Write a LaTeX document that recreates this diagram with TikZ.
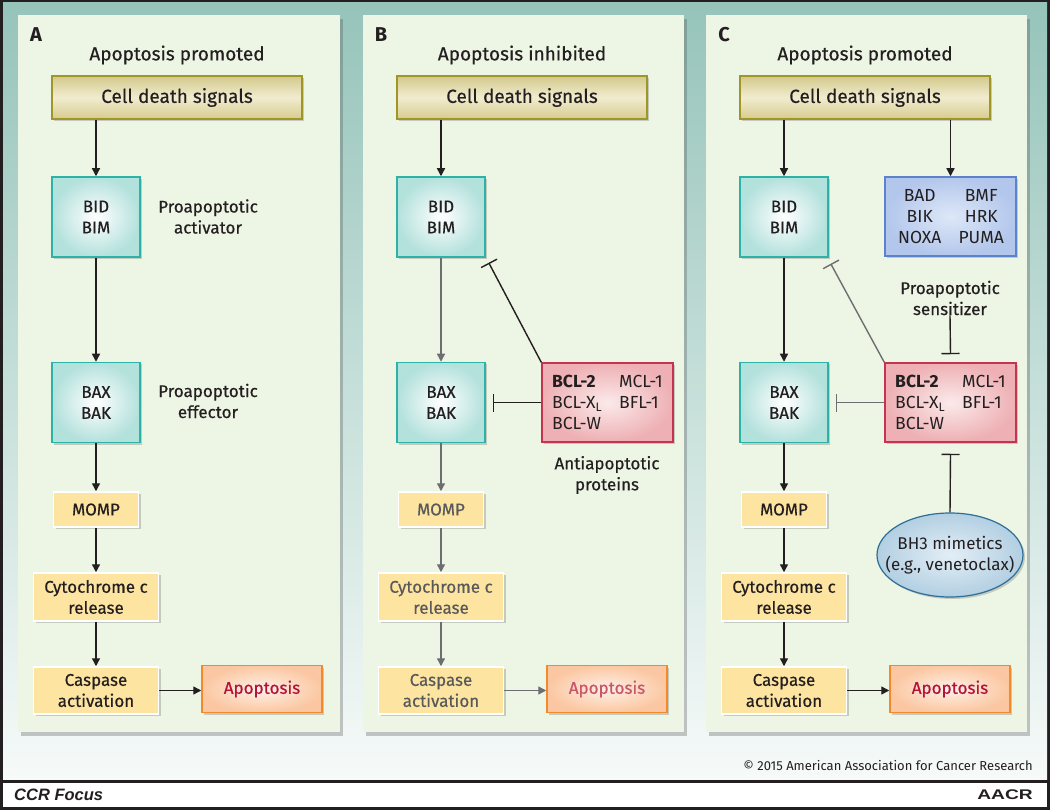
\documentclass[tikz,border=0pt]{standalone}
\usepackage{fontspec}
\setmainfont{Fira Sans}
\newfontfamily\med{Fira Sans}[FakeBold=0.5]
\newfontfamily\helv{Liberation Sans}
\usetikzlibrary{arrows.meta,shadows,shapes.geometric,calc}
\definecolor{frame}{HTML}{231F20}
\definecolor{bgtop}{HTML}{96C4BA}
\definecolor{bgbot}{HTML}{F6FAF9}
\definecolor{panelc}{HTML}{EDF5E5}
\definecolor{tealB}{HTML}{2DB2A8}
\definecolor{tealF}{HTML}{B3E1DC}
\definecolor{cdB}{HTML}{A09628}
\definecolor{cdT}{HTML}{D3C98C}
\definecolor{cdM}{HTML}{F1ECCF}
\definecolor{cdD}{HTML}{D6CC8E}
\definecolor{yel}{HTML}{FDE4A0}
\definecolor{orgB}{HTML}{F28A2B}
\definecolor{orgF}{HTML}{FBC7A2}
\definecolor{orgI}{HTML}{FFF1E6}
\definecolor{apoT}{HTML}{B3123E}
\definecolor{apoG}{HTML}{C9566A}
\definecolor{redB}{HTML}{C4334F}
\definecolor{redF}{HTML}{EEB0B4}
\definecolor{redI}{HTML}{FBEAEA}
\definecolor{bluB}{HTML}{5C82CB}
\definecolor{bluF}{HTML}{B3C7EC}
\definecolor{bluI}{HTML}{DDE7F7}
\definecolor{ellB}{HTML}{2E6E97}
\definecolor{ellF}{HTML}{B2CFE2}
\definecolor{ellI}{HTML}{E3EEF6}
\definecolor{gline}{HTML}{6D6E71}
\definecolor{gtext}{HTML}{58595B}
\definecolor{ink}{HTML}{231F20}
\tikzset{
  panel/.style={fill=panelc, drop shadow={shadow xshift=3pt,shadow yshift=-4pt,opacity=0.3,fill=black!70}},
  sh/.style={drop shadow={shadow xshift=2pt,shadow yshift=-2pt,opacity=0.25,fill=black!70}},
  box/.style={rectangle, inner sep=0pt, align=center, text=ink, line width=1.5pt},
  cdbox/.style={box, draw=cdB, top color=cdT, bottom color=cdD, middle color=cdM, minimum width=250pt, minimum height=43pt, font=\med\fontsize{19}{21}\selectfont, sh},
  tbox/.style={box, draw=tealB, inner color=white, outer color=tealF, minimum width=88pt, minimum height=80pt, sh},
  ybox/.style={box, draw=white, fill=yel, sh},
  obox/.style={box, draw=orgB, inner color=orgI, outer color=orgF, text=apoT, minimum width=120pt, minimum height=47pt, sh},
  rbox/.style={box, draw=redB, inner color=redI, outer color=redF, minimum width=131pt, minimum height=79pt, align=left, font=\rmfamily\fontsize{17.5}{21}\selectfont, sh},
  bbox/.style={box, draw=bluB, inner color=bluI, outer color=bluF, minimum width=131pt, minimum height=79pt, font=\rmfamily\fontsize{17.5}{21}\selectfont, sh},
  ell/.style={ellipse, draw=ellB, inner color=ellI, outer color=ellF, minimum width=146pt, minimum height=84pt, inner sep=0pt, line width=1.2pt, sh},
  lbl/.style={align=center, text=ink, inner sep=0pt},
  ttl/.style={lbl, font=\med\fontsize{19}{21}\selectfont},
  letter/.style={text=ink, font=\bfseries\fontsize{20}{21}\selectfont, inner sep=0pt},
  arr/.style={-{Triangle[length=8pt,width=8pt]}, line width=1.4pt, draw=ink},
  garr/.style={arr, draw=gline},
  inh/.style={-{Bar[width=18pt,line width=1.4pt]}, line width=1.4pt, draw=ink},
  ginh/.style={inh, draw=gline}
}
\begin{document}
\begin{tikzpicture}[x=1pt,y=-1pt,font=\med\fontsize{17}{21}\selectfont]
\useasboundingbox (0,0) rectangle (1050,810);
\fill[frame] (0,0) rectangle (1050,810);
\shade[top color=bgtop,bottom color=bgbot] (3,3) rectangle (1047,779);
\fill[white] (3,783) rectangle (1047,807);
\node[anchor=east, text=ink, inner sep=0pt, font=\rmfamily\fontsize{13}{15}\selectfont] (copy) at (1033,766) {© 2015 American Association for Cancer Research};
\node[anchor=west, text=ink, inner sep=0pt, font=\helv\bfseries\itshape\fontsize{16.5}{17}\selectfont] (ccr) at (14,795) {CCR Focus};
\node[anchor=east, text=ink, inner sep=0pt, xscale=1.37, font=\helv\bfseries\fontsize{14}{15}\selectfont] (aacr) at (1033,795) {AACR};

% ---------------- Panel A
\path[panel] (18,15) rectangle (340,732);
\node[letter] (letA) at (36,35) {A};
\node[ttl] (titA) at (177,55) {Apoptosis promoted};
\node[cdbox] (cdA) at (177,97.5) {Cell death signals};
\node[tbox] (bidA) at (96,217) {BID\\BIM};
\node[tbox] (baxA) at (96,402.5) {BAX\\BAK};
\node[ybox, minimum width=85pt, minimum height=35pt] (mompA) at (96,509.5) {MOMP};
\node[ybox, minimum width=125pt, minimum height=48pt] (cytA) at (96,597) {Cytochrome c\\release};
\node[ybox, minimum width=125pt, minimum height=47pt] (casA) at (96,690.5) {Caspase\\activation};
\node[obox] (apoA) at (262,689) {Apoptosis};
\node[lbl] (actA) at (208,216.5) {Proapoptotic\\activator};
\node[lbl] (effA) at (208,401) {Proapoptotic\\effector};
\draw[arr] (cdA.south -| bidA.north) -- (bidA.north);
\draw[arr] (bidA) -- (baxA);
\draw[arr] (baxA) -- (mompA);
\draw[arr] (mompA) -- (cytA);
\draw[arr] (cytA) -- (casA);
\draw[arr] (casA.east) -- (apoA.west |- casA.east);

% ---------------- Panel B
\begin{scope}[xshift=345pt]
\path[panel] (18,15) rectangle (339,732);
\node[letter] (letB) at (36,35) {B};
\node[ttl] (titB) at (177,55) {Apoptosis inhibited};
\node[cdbox] (cdB) at (177,97.5) {Cell death signals};
\node[tbox] (bidB) at (96,217) {BID\\BIM};
\node[tbox] (baxB) at (96,402.5) {BAX\\BAK};
\node[ybox, text=gtext, minimum width=85pt, minimum height=35pt] (mompB) at (96,509.5) {MOMP};
\node[ybox, text=gtext, minimum width=125pt, minimum height=48pt] (cytB) at (96,597) {Cytochrome c\\release};
\node[ybox, text=gtext, minimum width=125pt, minimum height=47pt] (casB) at (96,690.5) {Caspase\\activation};
\node[obox, text=apoG] (apoB) at (262,689) {Apoptosis};
\node[rbox] (redBx) at (262.5,402.5) {\makebox[67pt][l]{\textbf{BCL-2}}MCL-1\\\makebox[67pt][l]{BCL-X\textsubscript{L}}BFL-1\\\makebox[67pt][l]{BCL-W}\phantom{BFL-1}};
\node[lbl] (antiB) at (262,475) {Antiapoptotic\\proteins};
\draw[arr] (cdB.south -| bidB.north) -- (bidB.north);
\draw[garr] (bidB) -- (baxB);
\draw[garr] (baxB) -- (mompB);
\draw[garr] (mompB) -- (cytB);
\draw[garr] (cytB) -- (casB);
\draw[garr] (casB.east) -- (apoB.west |- casB.east);
\coordinate (tB) at ([shift={(3,5)}]bidB.south east);
\coordinate (hB) at ([shift={(7,0)}]baxB.east);
\draw[inh] (redBx.north west) -- (tB);
\draw[inh] (redBx.west) -- (hB);
\end{scope}

% ---------------- Panel C
\begin{scope}[xshift=688pt]
\path[panel] (18,15) rectangle (339,732);
\node[letter] (letC) at (36,35) {C};
\node[ttl] (titC) at (177,55) {Apoptosis promoted};
\node[cdbox] (cdC) at (177,97.5) {Cell death signals};
\node[tbox] (bidC) at (96,217) {BID\\BIM};
\node[tbox] (baxC) at (96,402.5) {BAX\\BAK};
\node[ybox, minimum width=85pt, minimum height=35pt] (mompC) at (96,509.5) {MOMP};
\node[ybox, minimum width=125pt, minimum height=48pt] (cytC) at (96,597) {Cytochrome c\\release};
\node[ybox, minimum width=125pt, minimum height=47pt] (casC) at (96,690.5) {Caspase\\activation};
\node[obox] (apoC) at (262,689) {Apoptosis};
\node[bbox] (bluC) at (262.5,216.5) {\makebox[50pt]{BAD}\hspace{11.5pt}\makebox[50pt]{BMF}\\\makebox[50pt]{BIK}\hspace{11.5pt}\makebox[50pt]{HRK}\\\makebox[50pt]{NOXA}\hspace{11.5pt}\makebox[50pt]{PUMA}};
\node[lbl] (sensC) at (262,298) {Proapoptotic\\sensitizer};
\node[rbox] (redC) at (262.5,402.5) {\makebox[67pt][l]{\textbf{BCL-2}}MCL-1\\\makebox[67pt][l]{BCL-X\textsubscript{L}}BFL-1\\\makebox[67pt][l]{BCL-W}\phantom{BFL-1}};
\node[ell] (bh3C) at (262,555) {};
\node[lbl, font=\rmfamily\fontsize{17}{21}\selectfont] (bh3t) at (bh3C.center) {BH3 mimetics\\(e.g., venetoclax)};
\draw[arr] (cdC.south -| bidC.north) -- (bidC.north);
\draw[arr] (cdC.south -| bluC.north) -- (bluC.north);
\draw[arr] (bidC) -- (baxC);
\draw[arr] (baxC) -- (mompC);
\draw[arr] (mompC) -- (cytC);
\draw[arr] (cytC) -- (casC);
\draw[arr] (casC.east) -- (apoC.west |- casC.east);
\coordinate (tC) at ([shift={(2,6)}]bidC.south east);
\coordinate (hC) at ([shift={(7,0)}]baxC.east);
\draw[ginh] (redC.north west) -- (tC);
\draw[ginh] (redC.west) -- (hC);
\draw[inh] (sensC.south) -- ([shift={(0,-8)}]redC.north);
\draw[inh] (bh3C.north) -- ([shift={(0,11)}]redC.south);
\end{scope}
\end{tikzpicture}
\end{document}
